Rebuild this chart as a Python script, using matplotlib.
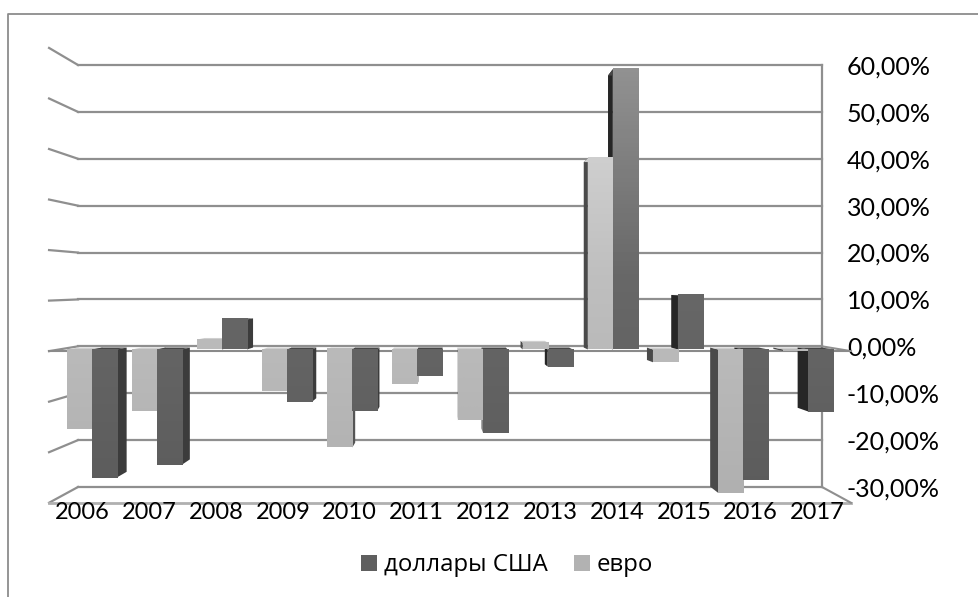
import numpy as np
import matplotlib
matplotlib.use("Agg")
import matplotlib.pyplot as plt
from matplotlib.colors import LinearSegmentedColormap
from matplotlib.lines import Line2D
from matplotlib.patches import Polygon

plt.rcParams['font.family'] = ['Lato', 'Open Sans', 'DejaVu Sans']

years = ['2006', '2007', '2008', '2009', '2010', '2011', '2012', '2013', '2014', '2015', '2016', '2017']
dollars = [-26.0, -23.4, 6.1, -10.6, -12.4, -5.3, -16.9, -3.5, 56.9, 11.0, -26.4, -12.6]
euros = [-16.1, -12.4, 2.0, -8.5, -19.9, -7.1, -14.4, 1.4, 38.8, -2.6, -29.1, -0.3]
ticks = [60, 50, 40, 30, 20, 10, 0, -10, -20, -30]
tick_labels = ['60,00%', '50,00%', '40,00%', '30,00%', '20,00%', '10,00%', '0,00%', '-10,00%', '-20,00%', '-30,00%']

# fake perspective of the excel 3d chart
vp_x = 5.5
vp_y = 13.2
depth_full = 0.0778
bar_front = 0.65
bar_back = 0.25
bar_w = 0.384


def px(x, d):
    return vp_x + (np.asarray(x) - vp_x) * (1 + depth_full * d)


def py(y, d):
    return vp_y + (np.asarray(y) - vp_y) * (1 + depth_full * d)


def draw_series(ax, values, x0, cmap, cap, right_face, left_face):
    x0s = [i + x0 for i in range(len(values))]
    left = px(x0s, bar_front)
    right = px(np.array(x0s) + bar_w, bar_front)
    base = py(0, bar_front)
    tops = py(values, bar_front)
    bars = ax.bar(left, tops - base, width=right - left, bottom=base, align='edge',
                  color='none', linewidth=0, zorder=5, clip_on=False)
    for i, v in enumerate(values):
        xa = x0s[i]
        # side face, the one turned to the middle of the chart
        edge = xa + bar_w if xa + bar_w / 2 < vp_x else xa
        color = right_face if xa + bar_w / 2 < vp_x else left_face
        side = [(px(edge, bar_front), py(0, bar_front)), (px(edge, bar_front), py(v, bar_front)),
                (px(edge, bar_back), py(v, bar_back)), (px(edge, bar_back), py(0, bar_back))]
        ax.add_patch(Polygon(side, closed=True, fc=color, ec='none', zorder=3, clip_on=False))
        # top face
        top = max(v, 0)
        capy = [(px(xa, bar_front), py(top, bar_front)), (px(xa + bar_w, bar_front), py(top, bar_front)),
                (px(xa + bar_w, bar_back), py(top, bar_back)), (px(xa, bar_back), py(top, bar_back))]
        ax.add_patch(Polygon(capy, closed=True, fc=cap, ec='none', zorder=3, clip_on=False))
        # front face with gradient
        b = bars[i]
        y1, y2 = b.get_y(), b.get_y() + b.get_height()
        grad = np.linspace(max(y1, y2), min(y1, y2), 64).reshape(-1, 1)
        ax.imshow(grad, extent=(b.get_x(), b.get_x() + b.get_width(), min(y1, y2), max(y1, y2)),
                  cmap=cmap, vmin=-32, vmax=62, aspect='auto', zorder=5, clip_on=False)
    return bars


fig = plt.figure(figsize=(9.79, 5.97), dpi=100)
ax = fig.add_axes([78 / 979, 1 - 487 / 597, 744 / 979, 422 / 597])

grid_c = '#8f8f8f'
for t in ticks:
    ax.plot([-0.5, 11.5], [t, t], color=grid_c, lw=1.6, zorder=1, clip_on=False)
    ax.plot([px(-0.5, 1), -0.5], [py(t, 1), t], color=grid_c, lw=1.6, zorder=1, clip_on=False)
ax.plot([px(-0.5, 1), px(11.5, 1)], [py(0, 1), py(0, 1)], color='#8a8a8a', lw=1.5, zorder=2, clip_on=False)
ax.plot([px(-0.5, 1), px(11.5, 1)], [py(-30, 1), py(-30, 1)], color='#b0b0b0', lw=2, zorder=1, clip_on=False)
ax.plot([11.5, 11.5], [-30, 60], color=grid_c, lw=1.6, zorder=1, clip_on=False)
ax.plot([11.5, px(11.5, 1)], [-30, py(-30, 1)], color=grid_c, lw=1.5, zorder=1, clip_on=False)
ax.plot([11.5, px(11.5, 1)], [0, py(0, 1)], color=grid_c, lw=1.5, zorder=1, clip_on=False)

dark_map = LinearSegmentedColormap.from_list('dark', ['#5c5c5c', '#686868', '#949494'])
light_map = LinearSegmentedColormap.from_list('light', ['#b0b0b0', '#bfbfbf', '#dcdcdc'])
draw_series(ax, euros, -bar_w, light_map, '#cfcfcf', '#555555', '#4a4a4a')
draw_series(ax, dollars, 0, dark_map, '#474747', '#3c3c3c', '#262626')

ax.set_xlim(-0.5, 11.5)
ax.set_ylim(-30, 60)
for s in ax.spines.values():
    s.set_visible(False)
ax.patch.set_visible(False)
ax.set_xticks(px(np.arange(len(years)), 1), years)
ax.yaxis.tick_right()
ax.set_yticks(ticks, tick_labels)
ax.tick_params(axis='x', length=0, pad=11, labelsize=17, labelcolor='black')
ax.tick_params(axis='y', length=0, pad=18, labelsize=18, labelcolor='black')

handles = [plt.Rectangle((0, 0), 1, 1, fc='#5f5f5f', ec='none'),
           plt.Rectangle((0, 0), 1, 1, fc='#b2b2b2', ec='none')]
fig.legend(handles, ['доллары США', 'евро'], ncol=2, loc='center', bbox_to_anchor=(507 / 979, 1 - 565 / 597),
           frameon=False, prop={'family': ['Open Sans', 'DejaVu Sans'], 'size': 17.3},
           handlelength=0.65, handleheight=0.65, handletextpad=0.29, columnspacing=1.1)

# chart frame, cut by the picture at the bottom and on the right
fig.add_artist(Line2D([8 / 979, 8 / 979, 1], [0, 1 - 14 / 597, 1 - 14 / 597], color='#8c8c8c', lw=1.3))

fig.savefig('out.png', dpi=100)
